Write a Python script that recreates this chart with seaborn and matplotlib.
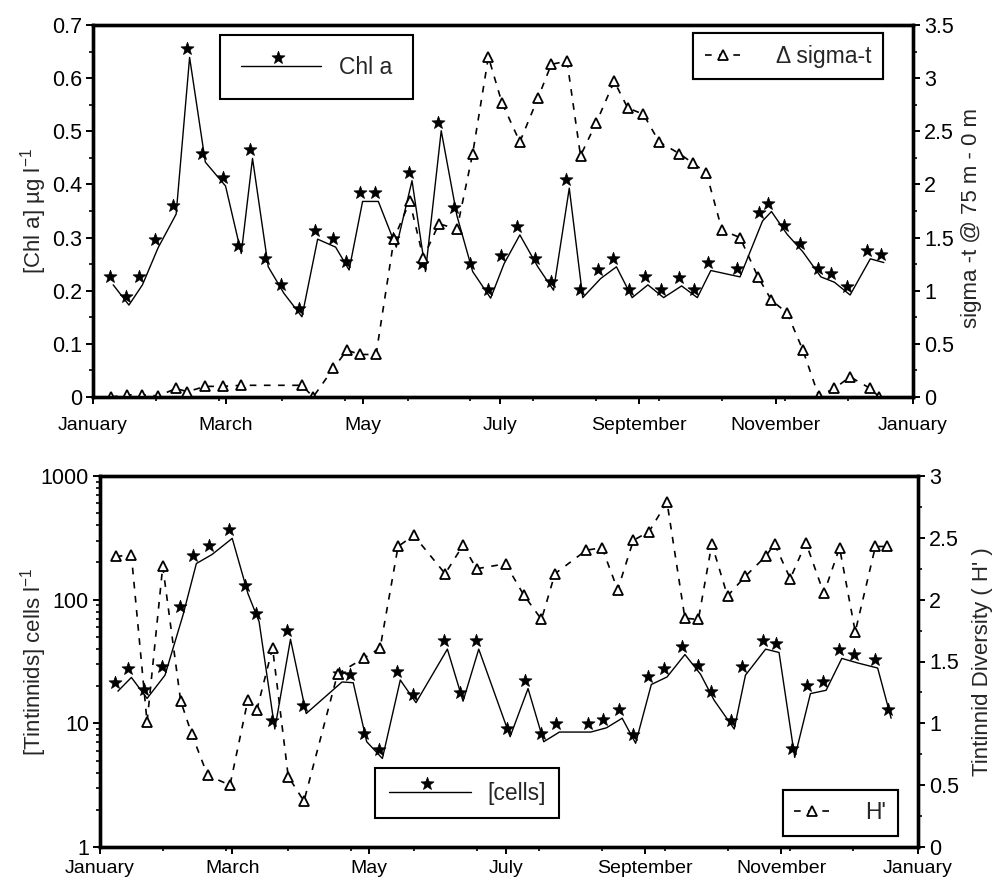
import numpy as np
import pandas as pd
import matplotlib
matplotlib.use("Agg")
import matplotlib.pyplot as plt
import seaborn as sns
from matplotlib.path import Path
from matplotlib.ticker import FixedLocator, FuncFormatter, LogLocator, NullFormatter, MultipleLocator

# ---------------- data (day of year) ----------------
chl_day = [9, 16, 22, 29, 37, 43, 50, 59, 66, 71, 78, 85, 93, 100, 108, 114, 120, 127, 135, 142,
           148, 155, 162, 169, 177, 183, 190, 198, 205, 212, 218, 226, 233, 240, 247, 254, 262,
           269, 275, 288, 298, 302, 309, 316, 324, 330, 337, 346, 352]
chl_val = [0.211, 0.173, 0.211, 0.281, 0.344, 0.639, 0.442, 0.397, 0.270, 0.449, 0.245, 0.195,
           0.151, 0.297, 0.282, 0.239, 0.368, 0.368, 0.282, 0.407, 0.236, 0.501, 0.341, 0.236,
           0.186, 0.251, 0.305, 0.245, 0.201, 0.393, 0.187, 0.223, 0.245, 0.187, 0.211, 0.187,
           0.209, 0.187, 0.238, 0.226, 0.331, 0.349, 0.306, 0.273, 0.226, 0.216, 0.192, 0.260,
           0.253]

sig_day = [8, 15, 22, 29, 37, 42, 50, 58, 66, 93, 98, 107, 113, 119, 126, 134, 141, 147, 154,
           162, 169, 176, 182, 190, 198, 204, 211, 217, 224, 232, 238, 245, 252, 261, 267, 273,
           280, 288, 296, 302, 309, 316, 323, 330, 337, 346, 350]
sig_val = [0, 0.02, 0.02, 0.01, 0.08, 0.05, 0.10, 0.10, 0.11, 0.11, 0, 0.27, 0.44, 0.40, 0.40,
           1.49, 1.84, 1.31, 1.63, 1.58, 2.29, 3.20, 2.77, 2.40, 2.81, 3.13, 3.16, 2.27, 2.58,
           2.97, 2.72, 2.66, 2.40, 2.29, 2.20, 2.11, 1.57, 1.50, 1.13, 0.91, 0.79, 0.44, 0.01,
           0.08, 0.19, 0.08, 0]

cells_day = [8, 14, 21, 29, 37, 43, 50, 59, 66, 71, 78, 85, 92, 108, 113, 119, 126, 134, 141,
             155, 162, 169, 183, 191, 198, 205, 219, 226, 233, 239, 246, 253, 261, 268, 274,
             283, 288, 297, 303, 310, 317, 324, 331, 338, 347, 353]
cells_val = [18.2, 23.5, 15.9, 24.5, 74.7, 196, 232, 313, 112, 66.3, 9.0, 47.8, 12.0, 21.6,
             21.3, 7.1, 5.2, 22.4, 14.7, 39.8, 15.1, 39.8, 7.8, 19.1, 7.1, 8.5, 8.5, 9.2, 11.0,
             6.9, 20.6, 23.7, 36.0, 24.9, 15.4, 9.0, 24.5, 39.8, 37.4, 5.3, 17.4, 18.5, 33.5,
             30.8, 28.0, 11.0]

h_day = [7, 14, 21, 28, 36, 41, 48, 58, 66, 70, 77, 84, 91, 106, 118, 125, 133, 140, 154, 162,
         168, 181, 189, 197, 203, 217, 224, 231, 238, 245, 253, 261, 267, 273, 280, 288, 297,
         301, 308, 315, 323, 330, 337, 346, 351]
h_val = [2.35, 2.36, 1.01, 2.27, 1.18, 0.91, 0.58, 0.50, 1.19, 1.11, 1.61, 0.57, 0.37, 1.40,
         1.53, 1.61, 2.43, 2.52, 2.21, 2.44, 2.25, 2.29, 2.04, 1.84, 2.21, 2.40, 2.42, 2.08,
         2.48, 2.55, 2.79, 1.85, 1.84, 2.45, 2.03, 2.19, 2.35, 2.45, 2.17, 2.46, 2.05, 2.42,
         1.74, 2.43, 2.43]

month_ticks = [0, 59, 120, 181, 243, 304, 365]
month_labels = ["January", "March", "May", "July", "September", "November", "January"]
week4_ticks = [28, 56, 84, 112, 140, 168, 196, 224, 252, 280, 308, 336]

# ---------------- style ----------------
sns.set_theme(style="ticks")
plt.rcParams["font.family"] = ["Liberation Sans", "DejaVu Sans"]
plt.rcParams["mathtext.fontset"] = "custom"
plt.rcParams["mathtext.rm"] = "Liberation Sans"
plt.rcParams["mathtext.it"] = "Liberation Sans:italic"
DPI = 100
FS_X = 14
FS_Y = 15.5
FS_LAB = 16
FS_LEG = 16.5


def star_marker(dx, dy, r_out, r_in):
    ang = np.pi / 2 + np.arange(10) * np.pi / 5
    rad = np.where(np.arange(10) % 2 == 0, r_out, r_in)
    v = np.column_stack([dx + rad * np.cos(ang), dy + rad * np.sin(ang)])
    v = np.vstack([v, v[:1]])
    codes = [Path.MOVETO] + [Path.LINETO] * 9 + [Path.CLOSEPOLY]
    p = Path(v, codes)
    ms = 2 * np.max(np.abs(v)) * 72 / DPI
    return p, ms


STAR, STAR_MS = star_marker(-3.0, 8.5, 6.8, 2.8)

solid_kw = dict(color="black", lw=1.0, marker=STAR, markersize=STAR_MS,
                markerfacecolor="black", markeredgecolor="black", markeredgewidth=0.5)
dash_kw = dict(color="black", lw=1.2, linestyle=(0, (4, 4.5)), marker="^", markersize=7.5,
               markerfacecolor="white", markeredgecolor="black", markeredgewidth=1.3)

fig = plt.figure(figsize=(9.94, 8.85), dpi=DPI)
ax1 = fig.add_axes([93 / 994, 1 - 397 / 885, 820 / 994, 372 / 885])
ax3 = fig.add_axes([100 / 994, 1 - 847 / 885, 818 / 994, 371 / 885])
ax2 = ax1.twinx()
ax4 = ax3.twinx()

df_chl = pd.DataFrame({"day": chl_day, "v": chl_val})
df_sig = pd.DataFrame({"day": sig_day, "v": sig_val})
df_cel = pd.DataFrame({"day": cells_day, "v": cells_val})
df_h = pd.DataFrame({"day": h_day, "v": h_val})

sns.lineplot(data=df_chl, x="day", y="v", ax=ax1, estimator=None, legend=False, **solid_kw)
sns.lineplot(data=df_sig, x="day", y="v", ax=ax2, estimator=None, legend=False, **dash_kw)
sns.lineplot(data=df_cel, x="day", y="v", ax=ax3, estimator=None, legend=False, **solid_kw)
sns.lineplot(data=df_h, x="day", y="v", ax=ax4, estimator=None, legend=False, **dash_kw)

ax3.set_yscale("log")


def fmt_g(x, pos):
    return "%g" % round(x, 3)


for ax in (ax1, ax2, ax3, ax4):
    ax.set_xlim(0, 365)
    ax.set_xlabel("")
    ax.set_ylabel("")
    for s in ax.spines.values():
        s.set_linewidth(2.4)
        s.set_color("black")
        s.set_visible(True)
    ax.tick_params(which="major", direction="out", length=5, width=1.4, labelsize=FS_Y,
                   colors="black", pad=3)
    ax.tick_params(which="minor", direction="out", length=3, width=1.2, colors="black")

for ax, pad in ((ax1, 9.5), (ax3, 4.5)):
    ax.xaxis.set_major_locator(FixedLocator(month_ticks))
    ax.set_xticklabels(month_labels)
    ax.xaxis.set_minor_locator(FixedLocator(week4_ticks))
    ax.tick_params(axis="x", which="major", pad=pad, labelsize=FS_X)

ax1.set_ylim(0, 0.7)
ax1.yaxis.set_major_locator(MultipleLocator(0.1))
ax1.yaxis.set_minor_locator(MultipleLocator(0.05))
ax1.yaxis.set_major_formatter(FuncFormatter(fmt_g))

ax2.set_ylim(0, 3.5)
ax2.yaxis.set_major_locator(MultipleLocator(0.5))
ax2.yaxis.set_minor_locator(MultipleLocator(0.25))
ax2.yaxis.set_major_formatter(FuncFormatter(fmt_g))

ax3.set_ylim(1, 1000)
ax3.yaxis.set_major_locator(LogLocator(base=10, numticks=10))
ax3.yaxis.set_minor_locator(LogLocator(base=10, subs=np.arange(2, 10), numticks=20))
ax3.yaxis.set_minor_formatter(NullFormatter())
ax3.yaxis.set_major_formatter(FuncFormatter(fmt_g))

ax4.set_ylim(0, 3)
ax4.yaxis.set_major_locator(MultipleLocator(0.5))
ax4.yaxis.set_minor_locator(MultipleLocator(0.25))
ax4.yaxis.set_major_formatter(FuncFormatter(fmt_g))

# axis labels
ax1.set_ylabel("[Chl a] µg l$^{-1}$", fontsize=FS_LAB)
ax1.yaxis.set_label_coords(-0.054, 0.5)
ax2.set_ylabel("sigma -t @ 75 m - 0 m", fontsize=FS_LAB)
ax2.yaxis.set_label_coords(1.058, 0.48)
ax3.set_ylabel("[Tintinnids] cells l$^{-1}$", fontsize=FS_LAB)
ax3.yaxis.set_label_coords(-0.062, 0.5)
ax4.set_ylabel("Tintinnid Diversity ( H' )", fontsize=FS_LAB)
ax4.yaxis.set_label_coords(1.066, 0.5)


# legends
def add_leg(ax, line, label, anchor, bp, hl, htp):
    leg = ax.legend([line], [label], loc="upper left", bbox_to_anchor=anchor,
                    borderaxespad=0, frameon=True, fancybox=False, edgecolor="black",
                    framealpha=1, facecolor="white", fontsize=FS_LEG, borderpad=bp,
                    handlelength=hl, handletextpad=htp, numpoints=1)
    leg.get_frame().set_linewidth(1.5)
    ax.add_artist(leg)
    return leg


add_leg(ax2, ax1.get_lines()[0], "Chl a", (0.155, 0.973), 0.9, 3.5, 0.8)
add_leg(ax2, ax2.get_lines()[0], "Δ sigma-t", (0.732, 0.978), 0.5, 1.6, 1.5)
add_leg(ax4, ax3.get_lines()[0], "[cells]", (0.336, 0.213), 0.6, 3.6, 0.7)
add_leg(ax4, ax4.get_lines()[0], "H'", (0.835, 0.154), 0.5, 1.5, 1.6)

fig.savefig("out.png", dpi=DPI)
